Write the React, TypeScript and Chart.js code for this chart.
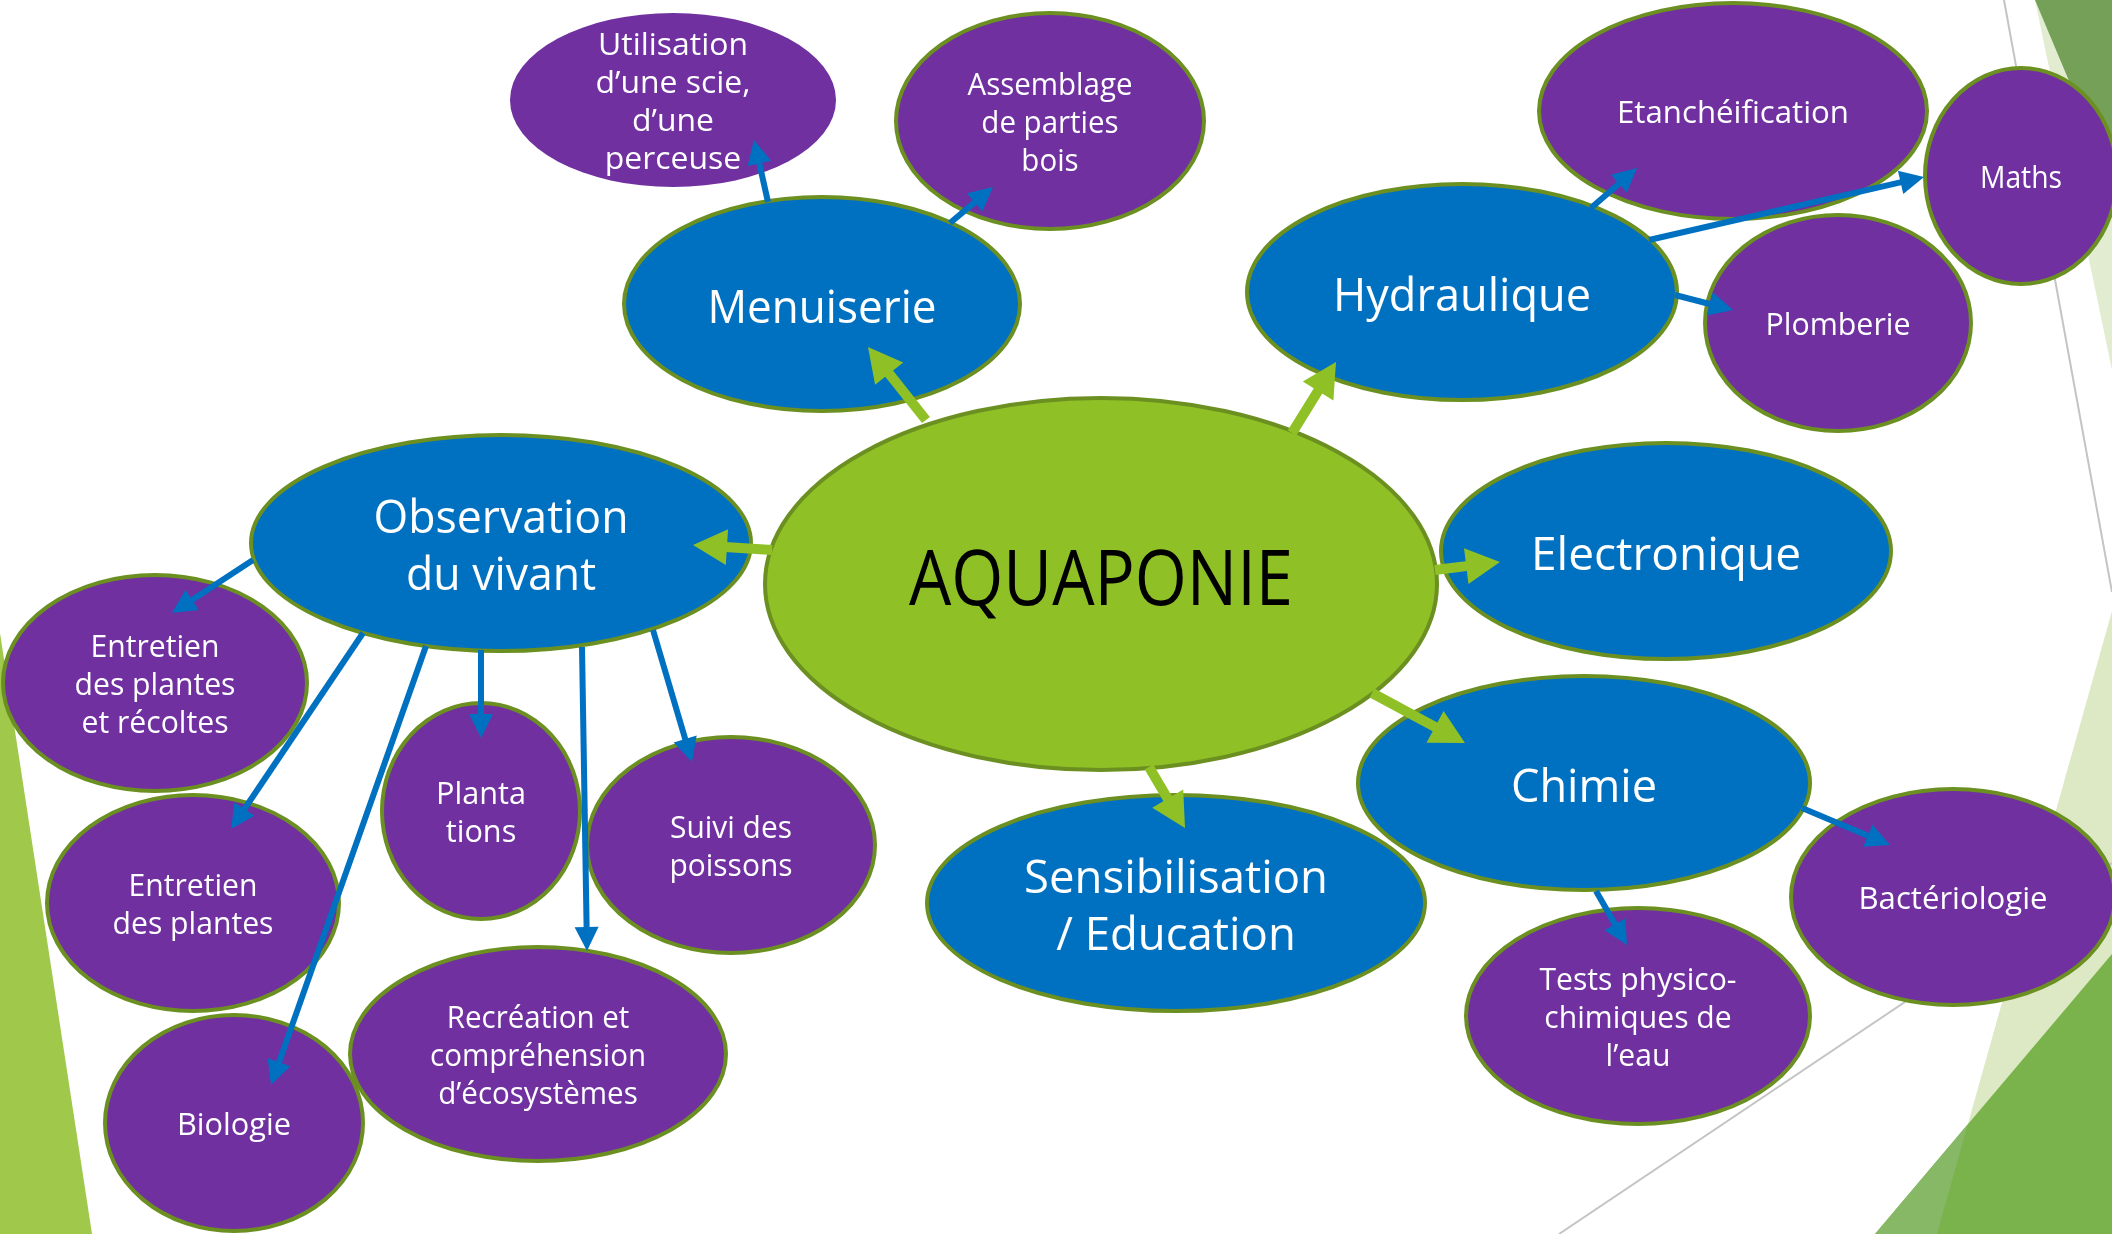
import React, { useEffect, useRef } from "react";
import { Chart, registerables } from "chart.js";

Chart.register(...registerables);

const W = 2112;
const H = 1234;

// ---------- Nodes (mind map bubbles) ----------
const nodeLabels = [
  "AQUAPONIE",
  "Menuiserie",
  "Hydraulique",
  "Observation\ndu vivant",
  "Electronique",
  "Chimie",
  "Sensibilisation\n/ Education",
  "Utilisation\nd’une scie,\nd’une\nperceuse",
  "Assemblage\nde parties\nbois",
  "Etanchéification",
  "Maths",
  "Plomberie",
  "Entretien\ndes plantes\net récoltes",
  "Entretien\ndes plantes",
  "Biologie",
  "Planta\ntions",
  "Suivi des\npoissons",
  "Recréation et\ncompréhension\nd’écosystèmes",
  "Bactériologie",
  "Tests physico-\nchimiques de\nl’eau",
];
const nodeX = [1101, 822, 1462, 501, 1666, 1584, 1176, 673, 1050, 1733, 2021, 1838, 155, 193, 234, 481, 731, 538, 1953, 1638];
const nodeY = [584, 304, 292, 543, 551, 783, 903, 100, 121, 111, 176, 323, 683, 903, 1123, 811, 845, 1054, 897, 1016];
const nodeRx = [336, 198, 215, 250, 225, 226, 249, 163, 154, 194, 96, 133, 152, 146, 129, 99, 144, 188, 162, 172];
const nodeRy = [186, 107, 108, 108, 108, 107, 108, 87, 108, 108, 108, 108, 108, 108, 108, 108, 108, 107, 108, 108];
const nodeKind = ["root", "branch", "branch", "branch", "branch", "branch", "branch",
  "leaf", "leaf", "leaf", "leaf", "leaf", "leaf", "leaf", "leaf", "leaf", "leaf", "leaf", "leaf", "leaf"];

// ---------- Arrows ----------
const arrowX0 = [926, 1292, 772, 1435, 1372, 1149, 768, 950, 1591, 1649, 1675, 253, 363, 426, 481, 582, 653, 1802, 1596];
const arrowY0 = [420, 433, 550, 570, 693, 767, 202, 223, 208, 240, 295, 560, 633, 646, 650, 647, 630, 808, 891];
const arrowX1 = [868, 1336, 693, 1500, 1465, 1185, 754, 993, 1637, 1924, 1733, 172, 231, 271, 481, 587, 692, 1890, 1627];
const arrowY1 = [347, 362, 545, 562, 743, 828, 140, 187, 168, 177, 310, 613, 829, 1085, 738, 951, 762, 845, 945];
const arrowKind = ["green", "green", "green", "green", "green", "green",
  "blue", "blue", "blue", "blue", "blue", "blue", "blue", "blue", "blue", "blue", "blue", "blue", "blue"];

// ---------- Slide theme decorations ----------
const decoPolys: number[][][] = [
  [[0, 633], [92, 1234], [0, 1234]],
  [[2035, 0], [2112, 0], [2112, 370]],
  [[2035, 0], [2112, 0], [2112, 183]],
  [[2112, 611], [1937, 1234], [2112, 1234]],
  [[2112, 954], [1875, 1234], [2112, 1234]],
  [[1875, 1234], [1968, 1124], [1937, 1234]],
];
const decoColors = ["#a0c84b", "#e2ecd0", "#74a057", "#dde9c4", "#7ab24b", "#86b865"];
const decoLines: number[][][] = [
  [[2004, 0], [2112, 592]],
  [[1559, 1234], [2112, 863]],
];

// ---------- Styles ----------
const kindFill: Record<string, string> = { root: "#8fc126", branch: "#0070c0", leaf: "#7030a0" };
const kindText: Record<string, string> = { root: "#000000", branch: "#ffffff", leaf: "#ffffff" };
const kindFont: Record<string, number> = { root: 76, branch: 46, leaf: 31 };
const kindLine: Record<string, number> = { root: 80, branch: 57, leaf: 38 };
const kindTextDy: Record<string, number> = { root: -6, branch: 2, leaf: 1 };
const nodeBorderOn = [true, true, true, true, true, true, true, false, true, true, true, true, true, true, true, true, true, true, true, true];
const nodeTextWidth = [384, 229, 258, 255, 270, 146, 304, 155, 165, 232, 82, 145, 161, 161, 114, 90, 123, 216, 189, 197];
const borderColor = "#6b9021";
const arrowStyle: Record<string, { color: string; lw: number; hl: number; hw: number }> = {
  green: { color: "#8fc126", lw: 10, hl: 34, hw: 36 },
  blue: { color: "#0070c0", lw: 6, hl: 24, hw: 24 },
};
const FONT = '"Open Sans", "Noto Sans", "DejaVu Sans", sans-serif';

const mindMapPlugin = {
  id: "mindmap",
  beforeDatasetsDraw(chart: any) {
    const ctx: CanvasRenderingContext2D = chart.ctx;
    const xs = chart.scales.x;
    const ys = chart.scales.y;
    const px = (v: number) => xs.getPixelForValue(v);
    const py = (v: number) => ys.getPixelForValue(v);

    ctx.save();
    ctx.fillStyle = "#ffffff";
    ctx.fillRect(0, 0, chart.width, chart.height);

    // decorations
    decoPolys.forEach((poly, i) => {
      ctx.beginPath();
      poly.forEach((p, j) => {
        if (j === 0) ctx.moveTo(px(p[0]), py(p[1]));
        else ctx.lineTo(px(p[0]), py(p[1]));
      });
      ctx.closePath();
      ctx.fillStyle = decoColors[i];
      ctx.fill();
    });
    ctx.strokeStyle = "#c4c4c4";
    ctx.lineWidth = 2;
    decoLines.forEach((l) => {
      ctx.beginPath();
      ctx.moveTo(px(l[0][0]), py(l[0][1]));
      ctx.lineTo(px(l[1][0]), py(l[1][1]));
      ctx.stroke();
    });

    // ellipses
    nodeLabels.forEach((_, i) => {
      const cx = px(nodeX[i]);
      const cy = py(nodeY[i]);
      const rx = Math.abs(px(nodeX[i] + nodeRx[i]) - cx);
      const ry = Math.abs(py(nodeY[i] + nodeRy[i]) - cy);
      ctx.beginPath();
      ctx.ellipse(cx, cy, rx, ry, 0, 0, Math.PI * 2);
      ctx.fillStyle = kindFill[nodeKind[i]];
      ctx.fill();
      if (nodeBorderOn[i]) {
        ctx.lineWidth = 4;
        ctx.strokeStyle = borderColor;
        ctx.stroke();
      }
    });

    // text
    ctx.textAlign = "center";
    ctx.textBaseline = "alphabetic";
    nodeLabels.forEach((label, i) => {
      const kind = nodeKind[i];
      const fs = kindFont[kind];
      const lh = kindLine[kind];
      ctx.font = `${fs}px ${FONT}`;
      ctx.fillStyle = kindText[kind];
      const lines = label.split("\n");
      const widest = Math.max(...lines.map((l) => ctx.measureText(l).width));
      const sx = nodeTextWidth[i] / widest;
      const cx = px(nodeX[i]);
      const cy = py(nodeY[i]) + kindTextDy[kind];
      lines.forEach((line, k) => {
        const lc = cy + (k - (lines.length - 1) / 2) * lh;
        ctx.save();
        ctx.translate(cx, lc + fs * 0.36);
        ctx.scale(sx, 1);
        ctx.fillText(line, 0, 0);
        ctx.restore();
      });
    });

    // arrows
    arrowX0.forEach((_, i) => {
      const st = arrowStyle[arrowKind[i]];
      const x0 = px(arrowX0[i]);
      const y0 = py(arrowY0[i]);
      const x1 = px(arrowX1[i]);
      const y1 = py(arrowY1[i]);
      const dx = x1 - x0;
      const dy = y1 - y0;
      const len = Math.hypot(dx, dy);
      const ux = dx / len;
      const uy = dy / len;
      const bx = x1 - ux * st.hl;
      const by = y1 - uy * st.hl;
      ctx.strokeStyle = st.color;
      ctx.fillStyle = st.color;
      ctx.lineWidth = st.lw;
      ctx.lineCap = "butt";
      ctx.beginPath();
      ctx.moveTo(x0, y0);
      ctx.lineTo(bx + ux * 2, by + uy * 2);
      ctx.stroke();
      ctx.beginPath();
      ctx.moveTo(x1, y1);
      ctx.lineTo(bx - uy * st.hw / 2, by + ux * st.hw / 2);
      ctx.lineTo(bx + uy * st.hw / 2, by - ux * st.hw / 2);
      ctx.closePath();
      ctx.fill();
    });

    ctx.restore();
  },
};

export default function App() {
  const canvasRef = useRef<HTMLCanvasElement | null>(null);

  useEffect(() => {
    document.body.style.margin = "0";
    document.body.style.overflow = "hidden";
    const canvas = canvasRef.current;
    if (!canvas) return;
    const chart = new Chart(canvas, {
      type: "scatter",
      data: {
        datasets: [
          {
            label: "nodes",
            data: nodeX.map((x, i) => ({ x, y: nodeY[i] })),
            pointRadius: 0,
            pointHoverRadius: 0,
            showLine: false,
          },
        ],
      },
      options: {
        responsive: false,
        maintainAspectRatio: false,
        animation: false,
        devicePixelRatio: 1,
        events: [],
        layout: { padding: 0 },
        plugins: {
          legend: { display: false },
          tooltip: { enabled: false },
          title: { display: false },
        },
        scales: {
          x: { type: "linear", min: 0, max: W, display: false },
          y: { type: "linear", min: 0, max: H, reverse: true, display: false },
        },
      },
      plugins: [mindMapPlugin],
    });
    return () => chart.destroy();
  }, []);

  return (
    <div style={{ width: W, height: H }}>
      <canvas ref={canvasRef} width={W} height={H} style={{ display: "block", width: W, height: H }} />
    </div>
  );
}
